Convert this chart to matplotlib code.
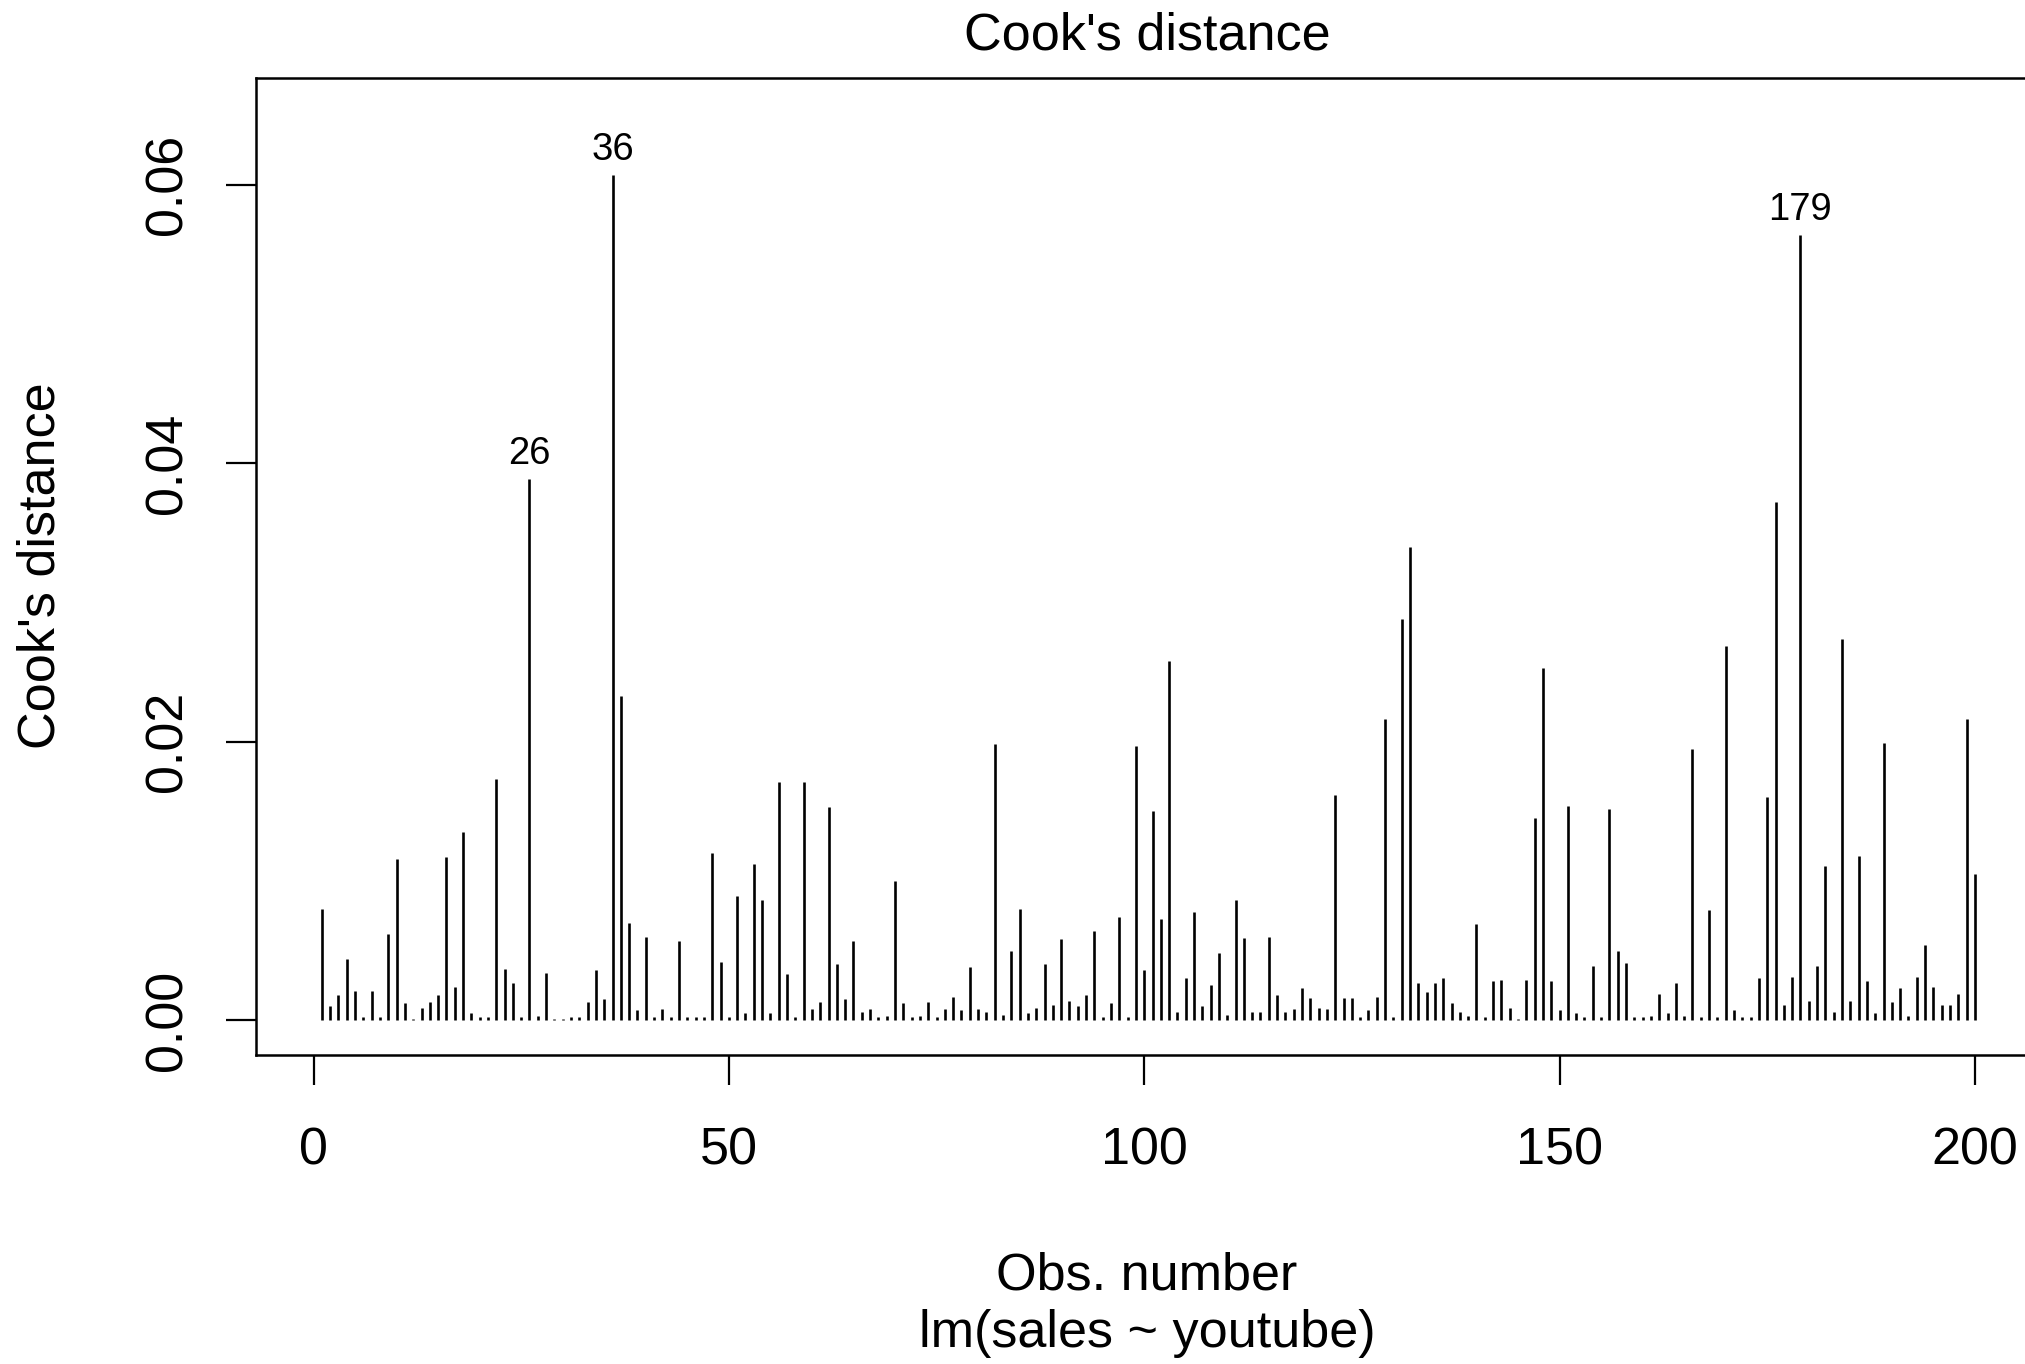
import matplotlib
matplotlib.use("Agg")
import matplotlib.pyplot as plt
import numpy as np

plt.rcParams['font.family'] = ['Liberation Sans', 'DejaVu Sans']

obs = list(range(1, 201))
cooks_d = [
    # 1-25
    0.0080, 0.0010, 0.0018, 0.0044, 0.0021, 0.0002, 0.0021, 0.0002, 0.0062, 0.0116,
    0.0012, 0.0001, 0.0009, 0.0013, 0.0018, 0.0117, 0.0024, 0.0135, 0.0005, 0.0002,
    0.0002, 0.0173, 0.0037, 0.0027, 0.0002,
    # 26-50
    0.0389, 0.0003, 0.0034, 0.0001, 0.0001, 0.0002, 0.0002, 0.0013, 0.0036, 0.0015,
    0.0607, 0.0233, 0.0070, 0.0007, 0.0060, 0.0002, 0.0008, 0.0002, 0.0057, 0.0002,
    0.0002, 0.0002, 0.0120, 0.0042, 0.0002,
    # 51-75
    0.0089, 0.0005, 0.0112, 0.0086, 0.0005, 0.0171, 0.0033, 0.0002, 0.0171, 0.0008,
    0.0013, 0.0153, 0.0040, 0.0015, 0.0057, 0.0006, 0.0008, 0.0002, 0.0003, 0.0100,
    0.0012, 0.0002, 0.0003, 0.0013, 0.0002,
    # 76-100
    0.0008, 0.0017, 0.0007, 0.0038, 0.0008, 0.0006, 0.0198, 0.0004, 0.0050, 0.0080,
    0.0005, 0.0009, 0.0040, 0.0011, 0.0058, 0.0014, 0.0010, 0.0018, 0.0064, 0.0002,
    0.0012, 0.0074, 0.0002, 0.0197, 0.0036,
    # 101-125
    0.0150, 0.0073, 0.0258, 0.0006, 0.0030, 0.0078, 0.0010, 0.0025, 0.0048, 0.0004,
    0.0086, 0.0059, 0.0006, 0.0006, 0.0060, 0.0018, 0.0006, 0.0008, 0.0023, 0.0016,
    0.0009, 0.0008, 0.0162, 0.0016, 0.0016,
    # 126-150
    0.0002, 0.0007, 0.0017, 0.0216, 0.0002, 0.0288, 0.0340, 0.0027, 0.0020, 0.0027,
    0.0030, 0.0012, 0.0006, 0.0003, 0.0069, 0.0002, 0.0028, 0.0029, 0.0009, 0.0001,
    0.0029, 0.0145, 0.0253, 0.0028, 0.0007,
    # 151-175
    0.0154, 0.0005, 0.0002, 0.0039, 0.0002, 0.0152, 0.0050, 0.0041, 0.0002, 0.0002,
    0.0003, 0.0019, 0.0005, 0.0027, 0.0003, 0.0195, 0.0002, 0.0079, 0.0002, 0.0269,
    0.0007, 0.0002, 0.0002, 0.0030, 0.0160,
    # 176-200
    0.0372, 0.0011, 0.0031, 0.0564, 0.0014, 0.0039, 0.0111, 0.0006, 0.0274, 0.0014,
    0.0118, 0.0028, 0.0005, 0.0199, 0.0013, 0.0023, 0.0003, 0.0031, 0.0054, 0.0024,
    0.0011, 0.0011, 0.0019, 0.0216, 0.0105,
]
labelled_obs = [26, 36, 179]
x_ticks = [0, 50, 100, 150, 200]
y_ticks = [0.00, 0.02, 0.04, 0.06]
y_tick_labels = ["0.00", "0.02", "0.04", "0.06"]

FS = 37.5
W, H = 2025, 1364
fig = plt.figure(figsize=(W / 100, H / 100), dpi=100)
left_px, right_px, top_px, bot_px = 255.7, 2041, 77.5, 1055
ax = fig.add_axes([left_px / W, 1 - bot_px / H,
                   (right_px - left_px) / W, (bot_px - top_px) / H])

ax.vlines(obs, 0, cooks_d, colors='black', linewidth=1.9)
ax.set_xlim(-6.96, 207.96)
ax.set_ylim(-0.0025, 0.0677)

for n in labelled_obs:
    ax.annotate(str(n), xy=(n, cooks_d[n - 1]), xytext=(0, 5),
                textcoords='offset points', ha='center', va='bottom',
                fontsize=27.5)

for s in ax.spines.values():
    s.set_linewidth(1.8)
ax.set_xticks(x_ticks)
ax.set_xticklabels([str(t) for t in x_ticks])
ax.set_yticks(y_ticks)
ax.set_yticklabels(y_tick_labels)
ax.tick_params(axis='both', length=21.5, width=1.6, labelsize=FS, direction='out')
ax.tick_params(axis='x', pad=30)
ax.tick_params(axis='y', pad=24)
for lab in ax.get_yticklabels():
    lab.set_rotation(90)
    lab.set_rotation_mode('anchor')
    lab.set_ha('center')
    lab.set_va('bottom')

fig.text(1147 / W, 1 - 36 / H, "Cook's distance", ha='center', va='center', fontsize=FS)
fig.text(1147 / W, 1 - 1276 / H, "Obs. number", ha='center', va='center', fontsize=FS)
fig.text(1147 / W, 1 - 1334 / H, "lm(sales ~ youtube)", ha='center', va='center', fontsize=FS)
fig.text(41 / W, 1 - 566 / H, "Cook's distance", ha='center', va='center',
         rotation=90, fontsize=FS)

fig.savefig("out.png", dpi=100)
